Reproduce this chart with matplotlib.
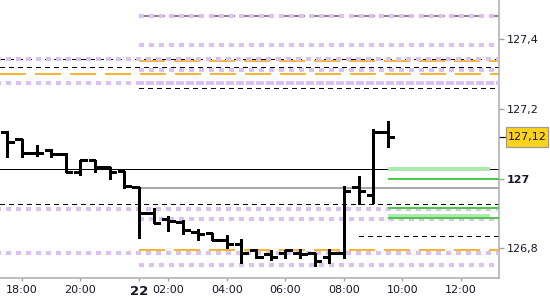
import matplotlib
matplotlib.use("Agg")
import matplotlib.pyplot as plt
import matplotlib.transforms as mtransforms
from matplotlib.patches import Rectangle

plt.rcParams["lines.scale_dashes"] = False
plt.rcParams["font.family"] = ["DejaVu Sans"]

# 30 minute bars; the session pauses between 22:00 and 01:00
bar_times = ["17:30", "18:00", "18:30", "19:00", "19:30", "20:00", "20:30", "21:00", "21:30",
             "01:00", "01:30", "02:00", "02:30", "03:00", "03:30", "04:00", "04:30", "05:00",
             "05:30", "06:00", "06:30", "07:00", "07:30", "08:00", "08:30", "09:00", "09:30"]
opens = [127.135, 127.113, 127.073, 127.082, 127.071, 127.020, 127.055, 127.034, 127.023,
         126.977, 126.903, 126.884, 126.876, 126.847, 126.843, 126.824, 126.814, 126.795,
         126.784, 126.787, 126.786, 126.786, 126.774, 126.786, 126.977, 126.954, 127.133]
highs = [127.138, 127.113, 127.096, 127.084, 127.073, 127.055, 127.055, 127.034, 127.023,
         126.977, 126.915, 126.894, 126.881, 126.857, 126.843, 126.838, 126.826, 126.797,
         126.795, 126.796, 126.797, 126.786, 126.797, 126.978, 127.007, 127.144, 127.165]
lows = [127.061, 127.061, 127.066, 127.061, 127.018, 127.012, 127.018, 127.000, 126.972,
        126.831, 126.872, 126.851, 126.841, 126.824, 126.824, 126.800, 126.759, 126.771,
        126.768, 126.771, 126.771, 126.749, 126.759, 126.771, 126.927, 126.929, 127.090]
closes = [127.106, 127.073, 127.073, 127.071, 127.020, 127.055, 127.034, 127.020, 126.979,
          126.903, 126.873, 126.878, 126.852, 126.841, 126.824, 126.814, 126.786, 126.774,
          126.774, 126.795, 126.785, 126.763, 126.786, 126.964, 126.964, 127.133, 127.120]
last_price = 127.12

# horizontal levels (price, time the level starts)
purple_levels = [(127.467, "01:00"), (127.384, "01:00"), (127.345, "17:30"), (127.312, "01:00"),
                 (127.275, "17:30"), (127.275, "01:00"), (126.914, "17:30"), (126.883, "01:00"),
                 (126.786, "17:30"), (126.752, "01:00")]
orange_levels = [(127.339, "01:00"), (127.302, "17:30"), (126.795, "01:00")]
gray_dash_levels = [(127.467, "01:00")]
black_dash_levels = [(127.345, "17:30"), (127.322, "17:30"), (127.259, "01:00"),
                     (126.927, "17:30"), (126.835, "08:30")]
black_solid_levels = [(127.029, "17:30")]
gray_solid_levels = [(126.972, "01:00")]
green_thin = [126.998, 126.915, 126.886]
green_thick = [127.028, 126.892]
green_start, green_end = "09:30", "13:00"

tick_times = ["18:00", "20:00", "01:00", "02:00", "04:00", "06:00", "08:00", "10:00", "12:00"]
tick_labels = ["18:00", "20:00", "22", "02:00", "04:00", "06:00", "08:00", "10:00", "12:00"]
y_ticks = [126.8, 127.0, 127.2, 127.4]
y_labels = ["126,8", "127", "127,2", "127,4"]

# slot positions on the compressed time axis
slots = []
for h in range(17, 22):
    for m in (0, 30):
        slots.append(f"{h:02d}:{m:02d}")
slots = slots[1:]
for h in range(1, 14):
    for m in (0, 30):
        slots.append(f"{h:02d}:{m:02d}")


def pos(t):
    return slots.index(t)


px = 0.72  # points per pixel at 100 dpi
x_left, x_right = -0.5, 33.6

fig = plt.figure(figsize=(5.5, 3.0), dpi=100)
fig.patch.set_facecolor("white")
ax = fig.add_axes([0, 22 / 300, 499 / 550, 278 / 300])
ax.set_xlim(x_left, x_right)
ax.set_ylim(126.715, 127.513)


def level(y, start, color, lw, dash, z, end=x_right, full_off=0):
    full = start == "17:30"
    x0 = x_left if full else pos(start)
    if dash is None:
        ls = "-"
    else:
        ls = ((full_off if full else 0) * px, (dash[0] * px, dash[1] * px))
    ax.plot([x0, end], [y, y], color=color, lw=lw * px, linestyle=ls, zorder=z,
            dash_capstyle="butt", solid_capstyle="butt", antialiased=False)


for y, s in black_solid_levels:
    level(y, s, "black", 1, None, 2)
for y, s in gray_solid_levels:
    level(y, s, "#a9a9a9", 2, None, 2)
for y, s in black_dash_levels:
    level(y, s, "black", 1, (5, 5), 2, full_off=9)
for y, s in gray_dash_levels:
    level(y, s, "#8a8a8a", 2, (25, 10), 2)
for y, s in orange_levels:
    level(y, s, "#f5b535", 2, (25, 10), 2)
for y, s in purple_levels:
    level(y, s, "#dcc0f0", 4.4, (4.4, 5.6), 3, full_off=4)
for y in green_thick:
    level(y, green_start, "#ade8ad", 4, None, 2, end=pos(green_end))
for y in green_thin:
    level(y, green_start, "#4cc84c", 2, None, 3)

# OHLC bars
idx = [pos(t) for t in bar_times]
w = 0.45
ax.vlines(idx, lows, highs, color="black", lw=3 * px, zorder=5, capstyle="butt",
          antialiased=False)
ax.hlines(opens, [i - w for i in idx], idx, color="black", lw=3 * px, zorder=5,
          capstyle="butt", antialiased=False)
ax.hlines(closes, idx, [i + w for i in idx], color="black", lw=3 * px, zorder=5,
          capstyle="butt", antialiased=False)

# axes styling
for side in ("top", "left"):
    ax.spines[side].set_visible(False)
for side in ("right", "bottom"):
    ax.spines[side].set_color("#ababab")
    ax.spines[side].set_linewidth(1.5 * px)

ax.yaxis.tick_right()
ax.set_yticks(y_ticks)
ax.set_yticklabels(y_labels)
ax.set_xticks([pos(t) for t in tick_times])
ax.set_xticklabels(tick_labels)
ax.tick_params(axis="y", direction="out", length=5 * px, width=1, color="#a0a0a0",
               pad=3 * px, labelsize=8, labelcolor="#15152a")
ax.tick_params(axis="x", direction="out", length=3 * px, width=1, color="#a0a0a0",
               pad=4 * px, labelsize=8, labelcolor="#15152a")
for lbl in ax.get_yticklabels():
    if lbl.get_text() == "127":
        lbl.set_fontweight("bold")
for lbl in ax.get_xticklabels():
    if lbl.get_text() == "22":
        lbl.set_fontweight("bold")
        lbl.set_fontsize(9.5)

# last price marker
trans = mtransforms.blended_transform_factory(ax.transAxes, ax.transData)
ax.plot([1.0, 1.012], [last_price, last_price], color="black", lw=1.2 * px,
        transform=trans, clip_on=False)
ax.add_patch(Rectangle((1.014, last_price - 0.0287), 0.0842, 0.0574, transform=trans,
                       facecolor="#ffd21a", edgecolor="#9a9a9a", lw=1.2 * px,
                       clip_on=False, zorder=6))
ax.text(1.014 + 0.0421, last_price, "127,12", transform=trans, ha="center", va="center",
        fontsize=8, color="#15152a", zorder=7, clip_on=False)

fig.savefig("out.png", dpi=100)
